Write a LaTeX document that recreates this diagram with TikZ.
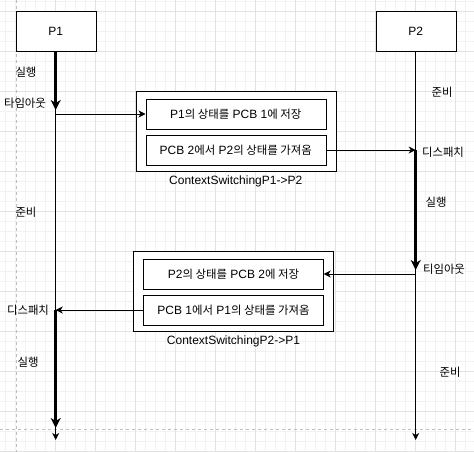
\documentclass[tikz,border=0pt]{standalone}
\usepackage{fontspec}
\setmainfont{Liberation Sans}
\newfontfamily\krfont[Scale=0.95]{Noto Sans CJK KR}
\newcommand{\kr}[1]{{\krfont #1}}
\usetikzlibrary{arrows.meta}
\definecolor{gridminor}{HTML}{F2F2F2}
\definecolor{gridmajor}{HTML}{E2E2E2}
\definecolor{pageline}{HTML}{BDBDBD}

\begin{document}
\begin{tikzpicture}[x=1pt, y=-1pt, font=\fontsize{12}{14}\selectfont,
  proc/.style={draw=black, fill=white, minimum width=80pt, minimum height=40pt},
  switchbox/.style={draw=black, fill=white, minimum width=200pt, minimum height=80pt},
  stepbox/.style={draw=black, fill=white, minimum width=180pt, minimum height=30pt},
  lifeline/.style={line width=1pt, -{Stealth[length=7pt,width=7pt,inset=2pt]}},
  running/.style={line width=3pt, -{Stealth[length=10pt,width=10pt,inset=3pt]}},
  msg/.style={line width=0.8pt, -{Stealth[length=7pt,width=7pt,inset=2pt]}}]

\useasboundingbox (0,0) rectangle (474,452);
\fill[white] (0,0) rectangle (474,452);

\foreach \x in {5.7,15.7,...,475}
    \draw[gridminor, line width=0.8pt] (\x,0) -- (\x,452);
\foreach \y in {1,11,...,452}
    \draw[gridminor, line width=0.8pt] (0,\y) -- (474,\y);
\foreach \x in {55.7,95.7,...,475}
    \draw[gridmajor, line width=0.8pt] (\x,0) -- (\x,452);
\foreach \y in {11,51,...,452}
    \draw[gridmajor, line width=0.8pt] (0,\y) -- (474,\y);
\draw[pageline, dashed, dash pattern=on 3pt off 3pt] (15.7,0) -- (15.7,452);
\draw[pageline, dashed, dash pattern=on 3pt off 3pt] (0,429.3) -- (474,429.3);


\node [proc] (p1) at (55.7,31) {P1};
\node [proc] (p2) at (415.7,31) {P2};

\coordinate (p1end) at (55.7,440);
\coordinate (p2end) at (415.7,440);
\draw [lifeline] (p1) -- (p1end);
\draw [lifeline] (p2) -- (p2end);


\node [switchbox, label={[label distance=1pt]below:ContextSwitchingP1->P2}] (cs1) at (235.7,131) {};
\node [stepbox] (save1) at (235.7,114) {P1\kr{의 상태를} PCB 1\kr{에 저장}};
\node [stepbox] (load1) at (235.7,150) {PCB 2\kr{에서} P2\kr{의 상태를 가져옴}};

\node [switchbox, label={[label distance=1pt]below:ContextSwitchingP2->P1}] (cs2) at (233.5,291) {};
\node [stepbox] (save2) at (233.5,274) {P2\kr{의 상태를} PCB 2\kr{에 저장}};
\node [stepbox] (load2) at (233.5,310) {PCB 1\kr{에서} P1\kr{의 상태를 가져옴}};


\coordinate (p1stop) at (55.7,110);
\coordinate (p1last) at (55.7,428);
\coordinate (p2stop) at (415.7,270);
\draw [running] (p1) -- (p1stop);
\draw [running] (p1 |- load2) -- (p1last);
\draw [running] (p2 |- load1) -- (p2stop);

\draw [msg] (p1 |- save1) -- (save1);
\draw [msg] (load1) -- (p2 |- load1);
\draw [msg] (p2 |- save2) -- (save2);
\draw [msg] (load2) -- (p1 |- load2);


\node (run1) at (26,72) {\kr{실행}};
\node (timeout1) at (25,103) {\kr{타임아웃}};
\node (ready1) at (26,212) {\kr{준비}};
\node (dispatch1) at (28,310) {\kr{디스패치}};
\node (run3) at (28,362) {\kr{실행}};

\node (ready2) at (442,92) {\kr{준비}};
\node (dispatch2) at (443,152) {\kr{디스패치}};
\node (run2) at (436,202.7) {\kr{실행}};
\node (timeout2) at (444,269) {\kr{티임아웃}};
\node (ready3) at (450,372) {\kr{준비}};

\end{tikzpicture}
\end{document}
